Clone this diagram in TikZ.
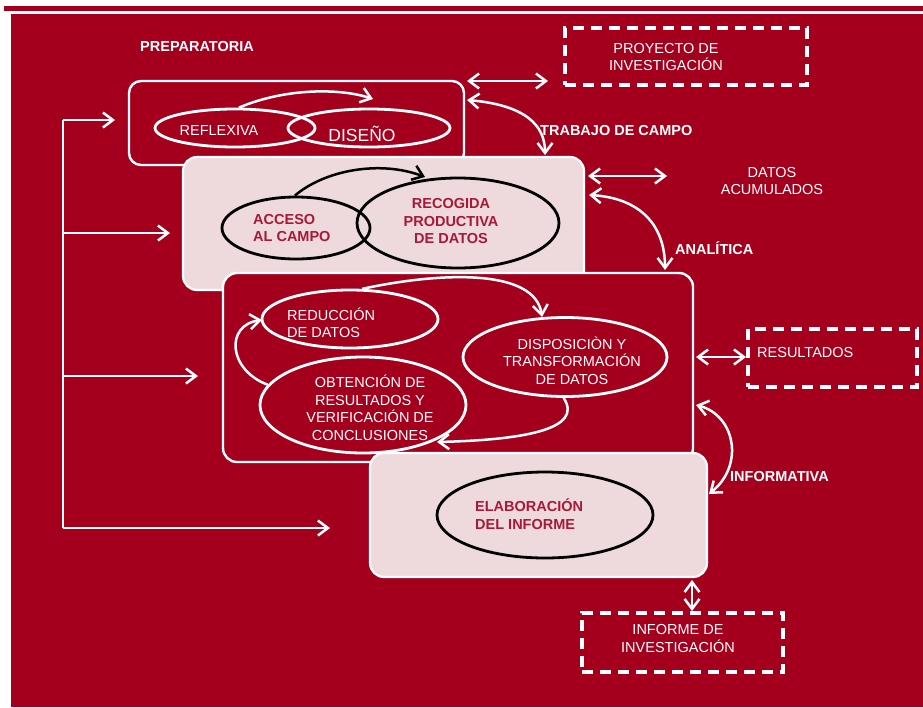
\documentclass[tikz,border=0pt]{standalone}
\usepackage{fontspec}
\setmainfont{Liberation Sans}
\usetikzlibrary{arrows.meta,shapes.geometric}
\definecolor{bgred}{RGB}{164,0,30}
\definecolor{pinkfill}{RGB}{238,218,220}
\definecolor{txtred}{RGB}{168,24,56}
\tikzset{
  >={Straight Barb[length=10pt,width=15pt]},
  warr/.style={draw=white, line width=2.5pt},
  barr/.style={draw=black, line width=2.5pt},
  box/.style={draw=white, line width=2.4pt, rounded corners=12pt, inner sep=0},
  pinkbox/.style={fill=pinkfill, draw=white, line width=2.2pt, rounded corners=14pt, inner sep=0},
  redbox/.style={fill=bgred, draw=white, line width=2.4pt, rounded corners=14pt, inner sep=0},
  dbox/.style={draw=white, line width=3.2pt, dash pattern=on 11pt off 7pt, inner sep=0},
  well/.style={ellipse, draw=white, line width=2.8pt, inner sep=0},
  bell/.style={ellipse, draw=black, line width=2.8pt, inner sep=0},
  lab/.style={text=white, font=\fontsize{14.5}{17.5}\selectfont\bfseries, inner sep=0},
  wtxt/.style={text=white, font=\fontsize{14.5}{17.5}\selectfont, inner sep=0},
  rtxt/.style={text=txtred, font=\fontsize{14.5}{17.5}\selectfont\bfseries, inner sep=0}
}
\begin{document}
\begin{tikzpicture}[x=1pt,y=-1pt]
\useasboundingbox (0,0) rectangle (923,707);
\fill[white] (0,0) rectangle (923,707);
\fill[bgred] (4,6) rectangle (923,11);
\fill[bgred] (11,14) rectangle (923,707);

% dashed output boxes
\node[dbox, minimum width=242pt, minimum height=57pt] (proy) at (686,56.5) {};
\node[dbox, minimum width=169pt, minimum height=58pt] (resu) at (832.5,358) {};
\node[dbox, minimum width=201pt, minimum height=59pt] (info) at (682.5,642.5) {};
\node[wtxt, align=center] at (666,57) {PROYECTO DE\\INVESTIGACIÓN};
\node[wtxt, anchor=west] at (757,353) {RESULTADOS};
\node[wtxt, align=center] at (678,638.5) {INFORME DE\\INVESTIGACIÓN};

% stage labels
\node[lab, anchor=west] at (140,47) {PREPARATORIA};
\node[lab, anchor=west] at (540,131) {TRABAJO DE CAMPO};
\node[lab, anchor=west] at (675,248) {ANALÍTICA};
\node[lab, anchor=west] at (730,477) {INFORMATIVA};
\node[wtxt, align=center] at (772,181) {DATOS\\ACUMULADOS};

% box 1: preparatoria
\node[box, minimum width=335pt, minimum height=84pt] (b1) at (296.5,123) {};
\node[well, minimum width=160pt, minimum height=38pt] (refl) at (235,128) {};
\node[well, minimum width=162pt, minimum height=38pt] (dise) at (369,128) {};
\node[wtxt] at (219,131) {REFLEXIVA};
\node[wtxt, font=\fontsize{17.5}{20}\selectfont] at (362,134) {DISEÑO};
\coordinate (r1) at (373,99);
\draw[warr,->] (refl.79) .. controls (285,88) and (340,88) .. (r1);

% box 2: trabajo de campo
\node[pinkbox, minimum width=401pt, minimum height=133pt] (b2) at (383.5,223.5) {};
\node[bell, minimum width=148pt, minimum height=62pt] (acc) at (296,228) {};
\node[bell, minimum width=202pt, minimum height=90pt] (reco) at (458,223) {};
\node[rtxt, anchor=west, align=left] at (253,228) {ACCESO\\AL CAMPO};
\node[rtxt, align=center] at (451,221.5) {RECOGIDA\\PRODUCTIVA\\DE DATOS};
\coordinate (r2) at (425,177);
\draw[barr,->] (acc.92) .. controls (325,170) and (380,160) .. (r2);

% box 3: analitica
\node[redbox, minimum width=470pt, minimum height=189pt] (b3) at (458,367.5) {};
\node[well, minimum width=176pt, minimum height=58pt] (redu) at (350,319) {};
\node[well, minimum width=204pt, minimum height=79pt] (disp) at (565,357) {};
\node[well, minimum width=206pt, minimum height=96pt] (obte) at (363,405) {};
\node[wtxt, anchor=west, align=left] at (287,323) {REDUCCIÓN\\DE DATOS};
\node[wtxt, align=center] at (572,360.5) {DISPOSICIÒN Y\\TRANSFORMACIÓN\\DE DATOS};
\node[wtxt, align=center] at (370,408) {OBTENCIÓN DE\\RESULTADOS Y\\VERIFICACIÓN DE\\CONCLUSIONES};
\coordinate (r3a) at (542,317);
\coordinate (r3b) at (437,442);
\coordinate (r3c) at (262,320);
\draw[warr,->] (redu.68) .. controls (440,272) and (535,268) .. (r3a);
\draw[warr,->] (disp.-92) .. controls (585,430) and (520,440) .. (r3b);
\draw[warr,->] (obte.168) .. controls (228,370) and (225,325) .. (r3c);

% box 4: informativa
\node[pinkbox, minimum width=337pt, minimum height=124pt] (b4) at (538.5,515) {};
\node[bell, minimum width=216pt, minimum height=86pt] (elab) at (545,515) {};
\node[rtxt, anchor=west, align=left] at (475,514) {ELABORACIÓN\\DEL INFORME};

% left feedback bracket
\coordinate (L1) at (63,120);
\coordinate (L2) at (63,233);
\coordinate (L3) at (63,376);
\coordinate (L4) at (63,528);
\coordinate (T1) at (115,120);
\coordinate (T2) at (170,233);
\coordinate (T3) at (198,376);
\coordinate (T4) at (330,528);
\draw[warr] (L1) -- (L4);
\draw[warr,->] (L1) -- (T1);
\draw[warr,->] (L2) -- (T2);
\draw[warr,->] (L3) -- (T3);
\draw[warr,->] (L4) -- (T4);

% outer connectors
\coordinate (p1) at (467,81);
\coordinate (p2) at (548,81);
\draw[warr,<->] (p1) -- (p2);
\coordinate (q1) at (467,100);
\coordinate (q2) at (545,155);
\draw[warr,<->] (q1) .. controls (525,105) and (545,125) .. (q2);
\coordinate (d1) at (588,176);
\coordinate (d2) at (667,176);
\draw[warr,<->] (d1) -- (d2);
\coordinate (a1) at (589,195);
\coordinate (a2) at (665,270);
\draw[warr,<->] (a1) .. controls (640,198) and (665,225) .. (a2);
\coordinate (s1) at (696,357);
\coordinate (s2) at (746,357);
\draw[warr,<->] (s1) -- (s2);
\coordinate (i1) at (696,405);
\coordinate (i2) at (709,494);
\draw[warr,<->] (i1) .. controls (735,415) and (745,465) .. (i2);
\coordinate (f1) at (692,580);
\coordinate (f2) at (692,611);
\draw[warr,<->] (f1) -- (f2);
\end{tikzpicture}
\end{document}
